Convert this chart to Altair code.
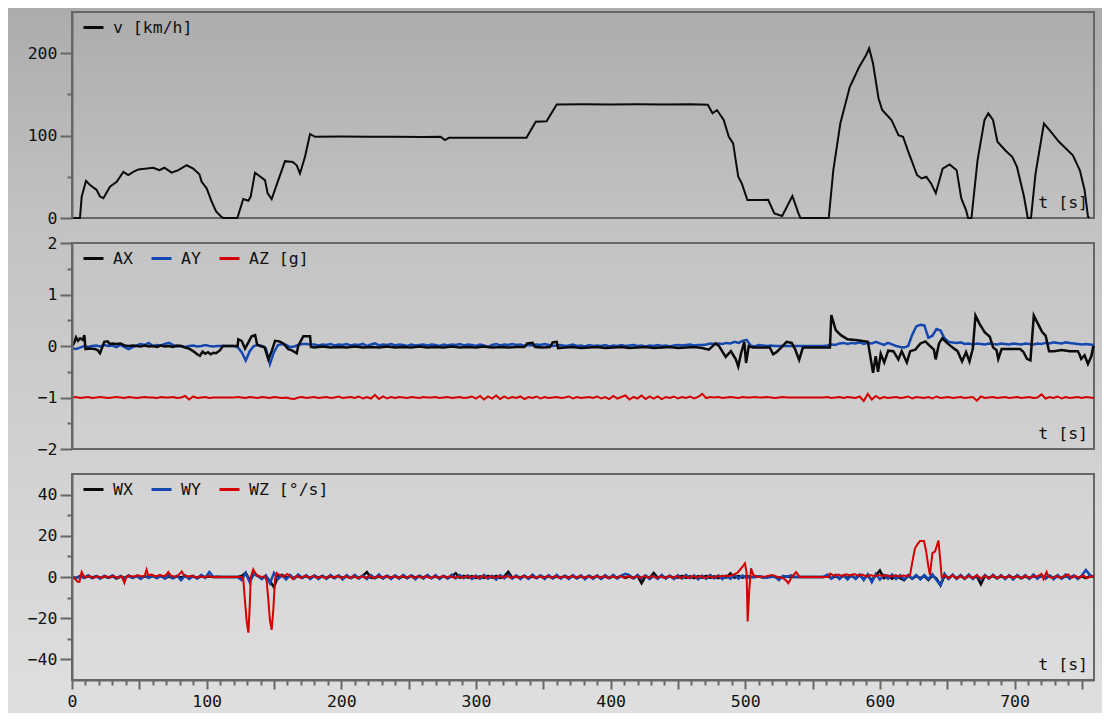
import altair as alt
import pandas as pd

FONT = "DejaVu Sans Mono"
FS = 16.5
W = 1022
H = 206
X_DOMAIN = [0, 759]
GRID_STEP = 3  # seconds between samples of the sampled series

# ---------------- data ----------------
V_PTS = [
    (0, 0), (5.9, 0), (7.2, 26), (10.4, 45), (13.4, 40), (18.3, 34), (20.8, 26), (23.3, 24),
    (28.2, 38), (33.2, 44), (38.1, 56), (41.8, 52), (45.5, 56), (49.3, 59), (55.5, 60), (60.4, 61),
    (64.9, 58), (68.6, 61), (74, 55), (79, 58), (85.2, 64), (90, 60), (94.6, 53), (96.3, 44),
    (100, 36), (103.7, 20), (107, 8), (111.2, 1), (112.5, 0), (122.8, 0), (127.2, 23), (131, 21),
    (132.7, 26), (135.9, 55), (143.3, 46), (145.3, 30), (148.3, 23), (153.2, 46), (158.2, 69),
    (163.9, 68), (166.9, 64), (169.3, 54), (173, 74), (176.8, 102), (180.5, 98.6), (200, 98.8),
    (220, 98.5), (240, 98.7), (260, 98.4), (273.7, 98.6), (277, 94.5), (280, 97.4), (300, 97.3),
    (320, 97.5), (337.5, 97.4), (344.4, 116.8), (352.4, 117.5), (360, 137.8), (380, 138),
    (400, 137.7), (420, 138), (440, 137.6), (460, 137.9), (472.2, 137.5), (475.7, 127), (479, 131),
    (484, 119), (487.8, 98.6), (491, 90.5), (494.8, 50), (497.4, 42), (501.6, 21.8), (517, 22),
    (521.6, 5.6), (527.4, 2.4), (535, 26.7), (539.5, 5.6), (541, 0), (562, 0), (565.4, 58),
    (570.6, 114.7), (577.6, 159), (584.5, 183), (589.7, 197.6), (592, 206), (594.9, 187.5),
    (599, 145), (601.7, 131), (608.6, 119), (613.8, 100.6), (617.2, 98.6), (620.7, 82),
    (627.6, 52), (631, 48), (634.5, 50), (638, 42), (641.5, 30), (646.6, 60), (651.8, 65),
    (657, 58), (660.4, 24), (663.9, 10), (665.5, 0), (668, 0), (672.5, 70), (677.7, 119),
    (680.5, 127), (684, 119), (687.3, 92.5), (693.2, 82), (698.4, 74), (701.8, 62), (707, 26),
    (709.8, 0), (712.2, 0), (715.6, 54), (721.8, 114.7), (726, 106.7), (733, 92.5), (743.3, 76),
    (748.5, 58), (752, 34), (754.5, 2), (755.5, 0),
]

AX_PTS = [
    (0, 0.0), (1.5, 0.05), (3, 0.17), (4.5, 0.1), (6, 0.15), (8, 0.12), (9.2, 0.21), (10, -0.06),
    (13, -0.05), (17, -0.06), (19, -0.08), (20.8, -0.14), (22.5, -0.02), (24, 0.08), (26.5, 0.09),
    (28, 0.04), (30, 0.05), (33, 0.04), (36, 0.05), (39, 0.01), (42, 0.0), (45, 0.01), (48, 0.0),
    (51, -0.01), (54, 0.01), (57, -0.01), (60, 0.0), (63, -0.02), (66, 0.01), (69, -0.01), (72, 0.0),
    (75, -0.02), (78, 0.01), (81, 0.0), (84, -0.03), (87, -0.05), (90, -0.1), (93, -0.16),
    (95, -0.19), (97, -0.11), (99, -0.15), (101, -0.12), (103, -0.16), (105, -0.13), (107, -0.14),
    (110, -0.08), (112, 0.0), (123, 0.0), (123.5, 0.13), (126, 0.1), (128.5, -0.05), (131, 0.07),
    (133.4, 0.19), (136, 0.21), (137.5, 0.03), (139.6, 0.0), (143, -0.02), (145.8, -0.26),
    (148.3, -0.1), (150.8, 0.1), (154, 0.09), (157, 0.05), (160.6, -0.06), (163, -0.08),
    (166.9, -0.14), (168, 0.0), (171.8, 0.19), (176.8, 0.19), (177.5, -0.02), (180, -0.03),
    (186, -0.01), (192, -0.03), (198, -0.02), (204, -0.03), (210, -0.01), (216, -0.03),
    (222, -0.02), (228, -0.03), (234, -0.01), (240, -0.03), (246, -0.02), (252, -0.03),
    (258, -0.01), (264, -0.03), (270, -0.02), (276, -0.03), (282, -0.01), (288, -0.03),
    (294, -0.02), (300, -0.03), (306, -0.01), (312, -0.03), (318, -0.02), (324, -0.03),
    (330, -0.02), (336, -0.02), (338, 0.05), (342, 0.06), (344, -0.02), (350, -0.03),
    (355, -0.02), (357, 0.07), (360, 0.08), (361, -0.04), (366, -0.03), (372, -0.02),
    (378, -0.04), (384, -0.03), (390, -0.02), (396, -0.04), (402, -0.03), (408, -0.02),
    (414, -0.04), (420, -0.03), (426, -0.02), (432, -0.04), (438, -0.03), (444, -0.02),
    (450, -0.04), (456, -0.03), (462, -0.02), (468, -0.04), (472.9, -0.07), (478, 0.05),
    (480.5, 0.0), (485.5, -0.21), (489.3, -0.1), (493, -0.26), (494.8, -0.4), (496.8, -0.15),
    (499.3, 0.08), (500.6, -0.33), (502.6, 0.0), (505.6, -0.03), (518.2, -0.03), (520.7, -0.16),
    (523.2, -0.12), (527, -0.02), (530.7, 0.08), (534.5, 0.06), (537, -0.06), (540, -0.27),
    (542.8, -0.03), (562.9, -0.03), (563.9, 0.6), (567.2, 0.31), (571, 0.21), (576, 0.13),
    (583.5, 0.11), (591.1, 0.08), (594.9, -0.52), (596.9, -0.2), (598.6, -0.5), (600.6, -0.15),
    (603.2, -0.32), (606.2, -0.09), (610, -0.1), (613.7, -0.26), (616.2, -0.1), (620, -0.32),
    (622.5, -0.1), (626.3, -0.07), (630.1, 0.05), (633.8, 0.09), (636.3, 0.02), (640.1, -0.07),
    (641.4, -0.26), (643.9, 0.05), (646.4, 0.15), (650.2, 0.05), (654, -0.03), (657.7, -0.1),
    (661, -0.3), (664, -0.12), (666.5, -0.3), (669, -0.05), (671, 0.59), (674, 0.43),
    (677.8, 0.27), (681.6, 0.18), (684.1, -0.03), (686.6, -0.08), (687.9, -0.25), (690.4, -0.06),
    (694.2, -0.06), (704.2, -0.06), (706.7, -0.12), (709.2, -0.25), (711.8, -0.28), (714.3, 0.59),
    (718, 0.4), (720.5, 0.27), (723.1, 0.2), (725.6, -0.1), (729.4, -0.1), (735, -0.08),
    (741, -0.1), (747, -0.1), (748.2, -0.16), (749.5, -0.25), (752, -0.18), (754.5, -0.35),
    (757, -0.2), (758.3, -0.03), (759, 0.0),
]

AY_GRID = [
    -0.05, -0.06, -0.03, 0.00, -0.02, 0.00, 0.01, -0.01, 0.02, 0.00,
    0.01, -0.02, 0.02, -0.02, -0.06, -0.02, 0.01, 0.04, 0.02, 0.06,
    0.00, 0.02, 0.01, 0.04, 0.06, 0.02, -0.01, 0.00, -0.02, 0.00,
    0.01, -0.01, 0.00, 0.02, 0.00, -0.01, 0.00, 0.00, 0.00, 0.00,
    0.00, -0.02, -0.12, -0.28, -0.10, 0.00, 0.02, 0.00, -0.05, -0.35,
    -0.12, 0.02, 0.04, 0.02, -0.02, -0.01, 0.02, 0.04, 0.04, 0.03,
    0.03, 0.01, 0.03, 0.02, 0.04, 0.01, 0.03, 0.02, 0.04, 0.01,
    0.03, 0.02, 0.04, 0.00, 0.03, 0.05, 0.01, 0.03, 0.02, 0.04,
    0.01, 0.03, 0.02, 0.00, 0.03, 0.01, 0.02, 0.03, 0.01, 0.03,
    0.02, 0.00, 0.03, 0.01, 0.03, 0.02, 0.04, 0.01, 0.03, 0.02,
    0.00, 0.03, 0.01, -0.02, 0.02, 0.04, 0.01, 0.03, 0.02, 0.04,
    0.02, 0.03, 0.00, 0.02, 0.01, 0.03, 0.02, 0.04, 0.02, 0.00,
    0.01, 0.02, 0.00, 0.01, 0.03, 0.00, 0.01, -0.01, 0.02, 0.00,
    0.01, 0.00, 0.02, -0.01, 0.01, 0.00, 0.02, 0.00, 0.01, 0.02,
    0.00, 0.01, -0.01, 0.01, 0.00, 0.02, 0.00, 0.01, -0.01, 0.01,
    0.02, 0.01, 0.02, 0.03, 0.01, 0.02, 0.02, 0.03, 0.05, 0.04,
    0.05, 0.04, 0.06, 0.05, 0.08, 0.06, 0.10, 0.12, 0.01, -0.01,
    0.02, 0.01, 0.00, 0.01, 0.00, 0.00, 0.00, 0.00, 0.00, 0.00,
    0.00, 0.00, 0.00, 0.00, 0.00, 0.00, 0.00, 0.01, 0.03, 0.02,
    0.05, 0.06, 0.04, 0.06, 0.05, 0.07, 0.04, 0.06, 0.05, 0.08,
    0.05, 0.02, 0.06, 0.03, 0.00, -0.02, -0.03, 0.00, 0.22, 0.38,
    0.41, 0.40, 0.16, 0.20, 0.33, 0.30, 0.15, 0.08, 0.07, 0.06,
    0.07, 0.04, 0.05, 0.03, 0.05, 0.04, 0.03, 0.05, 0.04, 0.03,
    0.05, 0.04, 0.03, 0.05, 0.04, 0.03, 0.05, 0.04, 0.03, 0.05,
    0.04, 0.06, 0.05, 0.07, 0.06, 0.05, 0.07, 0.06, 0.05, 0.04,
    0.03, 0.04, 0.03, 0.02,
]

AZ_GRID = [
    -1.00, -0.99, -1.01, -1.00, -0.99, -1.01, -1.00, -0.99, -1.00, -1.01,
    -1.00, -0.99, -1.00, -1.01, -0.99, -1.00, -1.01, -1.00, -0.99, -1.00,
    -1.00, -1.01, -0.99, -1.00, -1.00, -0.99, -1.01, -1.00, -0.97, -1.04,
    -0.98, -1.01, -1.00, -0.99, -1.01, -1.00, -1.00, -1.00, -1.00, -1.00,
    -1.00, -0.99, -1.00, -1.01, -0.99, -1.00, -1.01, -0.99, -1.00, -1.01,
    -0.99, -1.00, -1.01, -1.00, -1.02, -1.03, -1.00, -0.99, -1.01, -1.00,
    -0.99, -1.01, -1.00, -0.99, -1.01, -1.00, -0.98, -1.01, -1.00, -0.99,
    -1.01, -0.98, -1.02, -0.99, -1.02, -0.95, -1.03, -0.98, -1.02, -0.99,
    -1.01, -0.99, -1.00, -1.01, -0.99, -1.00, -1.01, -0.99, -1.00, -1.00,
    -0.99, -1.01, -1.00, -0.99, -1.01, -1.00, -0.99, -1.01, -1.00, -0.98,
    -1.02, -0.97, -1.04, -0.98, -1.02, -0.96, -1.03, -0.98, -1.02, -0.99,
    -1.01, -0.98, -1.03, -0.99, -1.01, -0.98, -1.02, -0.99, -1.01, -1.00,
    -0.99, -1.01, -1.00, -0.98, -1.02, -0.99, -1.01, -1.00, -0.99, -1.01,
    -0.98, -1.02, -0.99, -1.03, -0.97, -1.02, -0.99, -0.96, -1.04, -0.99,
    -1.02, -0.96, -1.03, -0.98, -1.02, -0.98, -1.03, -0.99, -1.01, -0.98,
    -1.02, -0.99, -1.01, -0.98, -1.02, -0.99, -0.93, -1.01, -0.99, -1.00,
    -0.99, -1.01, -1.00, -0.99, -1.00, -1.01, -0.99, -1.00, -1.00, -0.99,
    -1.00, -1.00, -0.99, -1.00, -1.01, -1.00, -0.99, -1.00, -1.00, -1.00,
    -1.00, -1.00, -1.00, -1.00, -1.00, -1.00, -1.00, -0.99, -1.01, -1.00,
    -0.99, -1.01, -0.99, -1.00, -1.01, -0.98, -1.07, -0.93, -1.04, -0.97,
    -1.02, -0.99, -1.01, -1.00, -0.99, -1.01, -1.00, -0.98, -1.02, -0.99,
    -1.00, -1.01, -0.99, -1.02, -0.98, -1.01, -1.00, -0.99, -1.01, -1.00,
    -0.99, -1.01, -1.00, -0.99, -1.06, -0.98, -1.01, -1.00, -0.99, -1.01,
    -1.00, -0.99, -1.01, -1.00, -0.99, -1.01, -1.00, -0.99, -1.01, -1.00,
    -0.94, -1.02, -0.99, -1.01, -0.98, -1.02, -0.99, -1.01, -1.00, -0.99,
    -1.01, -0.99, -1.00, -1.01,
]

WX_GRID = [
    0.0, -0.5, 0.3, -0.3, 0.5, -0.2, 0.3, -0.5, 0.2, -0.3,
    0.5, -0.8, 0.2, -0.4, 0.6, -0.3, 0.4, -0.6, 0.3, -0.2,
    0.4, -0.3, 0.6, -0.5, 0.2, -0.4, 0.3, -0.2, 0.5, -0.3,
    0.2, -0.4, 0.3, 0.0, 0.2, 0.0, 0.1, 0.0, 0.0, 0.0,
    0.0, 0.0, 0.5, 2.0, -1.5, 1.5, 0.5, -0.5, 0.3, -2.0,
    -5.0, 0.5, 1.0, -0.3, 0.4, -0.5, 0.6, -0.2, 0.3, -0.4,
    0.5, -0.3, 0.4, -0.6, 0.3, -0.2, 0.5, -0.4, 0.3, -0.5,
    0.4, -0.3, 0.6, 2.4, -0.4, -0.5, 0.3, -0.6, 0.4, -0.3,
    0.5, -0.4, 0.3, -0.5, 0.6, -0.3, 0.4, -0.2, 0.5, -0.4,
    0.3, -0.5, 0.4, -0.3, 0.2, 1.8, -0.4, 0.5, -0.3, 0.4,
    -0.5, 0.3, -0.4, 0.6, -0.3, 0.5, -0.4, 0.3, 2.5, -0.5,
    0.4, -0.3, 0.5, -0.6, 0.3, -0.4, 0.5, -0.3, 0.4, -0.5,
    0.3, -0.4, 0.6, -0.3, 0.5, -0.5, 0.3, -0.4, 0.5, -0.3,
    0.4, -0.6, 0.3, -0.5, 0.4, -0.3, 0.6, -0.4, 0.3, -0.5,
    0.5, -3.0, 0.4, -0.5, 2.0, -0.4, 0.3, -0.5, 0.4, -0.3,
    -0.3, 0.5, -0.4, 0.3, -0.6, 0.4, -0.3, 0.5, -0.4, 0.3,
    -0.5, 0.4, -0.3, 1.8, -0.4, 0.5, -0.3, 0.5, 0.0, 0.0,
    0.2, -0.2, 0.0, 0.3, 0.0, -0.3, 0.0, 0.2, 0.0, 0.0,
    0.0, 0.0, 0.0, 0.0, 0.0, 0.0, 0.0, 0.5, -0.6, 0.4,
    -0.5, 0.6, -0.4, 0.5, -0.6, 0.8, -0.8, 0.6, -1.5, 0.8,
    3.2, -0.6, 0.5, -0.8, 0.6, -0.5, -1.5, 0.6, -0.8, 0.5,
    -0.6, 0.4, -1.5, 0.6, -0.8, -4.0, 0.6, -0.5, 0.8, -0.6,
    0.5, -0.8, 0.6, -0.5, 0.4, -3.5, 0.6, -0.4, 0.5, -0.6,
    0.4, -0.5, 0.6, -0.4, 0.5, -0.6, 0.3, -0.5, 0.4, -0.3,
    0.5, -0.4, 0.6, -0.5, 0.3, -0.6, 0.4, -0.3, 0.5, -0.4,
    0.3, -0.5, 0.4, 0.0,
]

WY_GRID = [
    0.0, -0.8, 0.6, -0.5, 0.8, -0.6, 0.5, -0.8, 0.6, -0.4,
    0.7, -0.6, 0.5, -1.0, 0.8, -0.5, 0.6, -0.9, 0.7, -0.5,
    0.8, -0.6, 0.5, -0.8, 1.0, -0.7, 0.6, -1.5, 0.8, -1.0,
    0.6, -0.8, 1.0, -0.5, 2.4, 0.0, 0.0, 0.0, 0.0, 0.0,
    0.0, 0.0, -1.5, 2.0, -2.5, 1.5, 0.5, -1.0, 0.8, -3.0,
    2.0, -1.0, 0.8, -1.2, 1.0, -0.8, 1.2, -0.6, 0.9, -1.0,
    0.8, -1.0, 0.6, -0.9, 1.0, -0.7, 0.8, -1.2, 0.9, -0.6,
    1.0, -0.8, 0.7, -1.0, 0.9, -0.6, 1.2, -0.8, 0.7, -1.0,
    0.8, -0.9, 1.0, -0.6, 0.8, -1.1, 0.7, -0.8, 1.0, -0.7,
    0.9, -1.0, 0.6, -0.8, 1.1, -0.7, 0.9, -0.6, 0.8, -1.0,
    0.7, -0.9, 1.0, -0.8, 0.6, -1.2, 0.9, -0.7, 1.0, -0.8,
    0.8, -1.0, 0.7, -0.9, 1.1, -0.6, 0.8, -1.0, 0.9, -0.7,
    1.0, -0.8, 0.6, -1.0, 0.9, -0.7, 0.8, -1.1, 0.7, -0.9,
    0.8, -1.0, 0.9, -0.6, 1.0, -0.8, 0.7, 1.5, 0.9, -0.8,
    1.0, -0.7, 0.8, -1.0, 0.6, -0.9, 1.0, -0.8, 0.7, -1.0,
    0.9, -0.8, 1.0, -0.6, 0.8, -1.1, 0.7, -0.9, 1.0, -0.7,
    0.8, -1.0, 0.6, -0.9, 1.0, -0.8, 0.7, -0.5, 0.0, 0.0,
    0.3, 0.0, -0.3, 0.0, 0.2, -1.5, 0.5, 0.0, 0.8, 0.0,
    0.0, 0.0, 0.0, 0.0, 0.0, 0.0, 0.0, 1.2, -0.8, 1.0,
    -1.0, 0.8, -1.2, 1.0, -0.9, 1.2, -1.5, 1.3, -2.5, 1.5,
    -1.2, 1.0, -0.8, 1.2, -1.0, 0.8, -1.2, 1.0, -0.8, 1.0,
    -1.2, 0.9, -1.0, 1.3, -1.5, -4.0, 1.5, -1.0, 1.2, -0.9,
    1.0, -0.8, 1.2, -1.0, 0.8, -1.2, 1.0, -0.9, 1.1, -0.8,
    0.9, -1.0, 0.8, -1.2, 1.0, -0.7, 0.9, -1.0, 1.2, -0.8,
    1.0, -0.9, 0.8, -1.1, 1.0, -0.8, 1.2, -0.9, 0.8, -1.0,
    0.8, 3.4, 0.9, 0.0,
]

WZ_PTS = [
    (0, 0), (2, -0.8), (4, -2.2), (5.5, -2.4), (6.5, 0.5), (7.2, 2.4), (8.5, 0.8), (10, -0.3),
    (13, 0.4), (16, -0.5), (19, 0.3), (22, -0.4), (25, 0.5), (28, -0.3), (31, 0.4), (34, -0.5),
    (37, 0.3), (38.9, -2.9), (40.5, 0.2), (43, 0.6), (46, 0.1), (49, 0.8), (52, 0.3), (54, 0.6),
    (55.4, 3.6), (56.5, 0.8), (59, 1.2), (62, 0.3), (65, 0.9), (68, 0.4), (70, 1.0), (71.5, 2.4),
    (73, 0.9), (76, 0.2), (79, 0.8), (81.5, 2.7), (83, 1.0), (86, 0.2), (89, 0.6), (92, -0.2),
    (95, 0.4), (98, -0.1), (101, 0.3), (104, 0), (108, 0), (126, 0), (127.2, -1), (128.5, -12),
    (129.8, -22), (131, -27), (132, -14), (132.8, 0), (134.6, 3.7), (136, 2), (138, 0.5),
    (141, 0), (143.5, 0.3), (144.6, -2), (145.8, -11), (147, -21), (148.3, -25.6), (149.5, -16),
    (150.8, -1), (152, 2), (154, 1), (157, 0.2), (160, 1.5), (162, 0.3), (164, -1), (167, 0.5),
    (170, -0.4), (173, 0.6), (176, -0.3), (179, 0.4), (182, -0.5), (185, 0.3), (188, -0.6),
    (191, 0.4), (194, -0.3), (197, 0.5), (200, -0.4), (203, 0.3), (206, -0.5), (209, 0.4),
    (212, -0.6), (215, 0.3), (218, -0.4), (221, 0.5), (224, -0.6), (227, 0.4), (230, -0.3),
    (233, 0.5), (236, -0.4), (239, 0.3), (242, -0.5), (245, 0.4), (248, -0.3), (251, 0.5),
    (254, -0.4), (257, 0.3), (260, -0.5), (263, 0.4), (266, -0.6), (269, 0.3), (272, -0.4),
    (275, 0.5), (278, -0.3), (281, 0.4), (284, -0.5), (287, 0.3), (290, -0.4), (293, 0.5),
    (296, -0.3), (299, 0.4), (302, -0.6), (305, 0.5), (308, -0.4), (311, 0.3), (314, -0.5),
    (317, 0.4), (320, -0.3), (323, 0.6), (326, -0.4), (329, 0.3), (332, -0.5), (335, 0.4),
    (338, -0.3), (341, 0.5), (344, -0.4), (347, 0.3), (350, -0.5), (353, 0.4), (356, -0.3),
    (359, 0.5), (362, -0.4), (365, 0.3), (368, -0.5), (371, 0.4), (374, -0.3), (377, 0.5),
    (380, -0.4), (383, 0.3), (386, -0.5), (389, 0.4), (392, -0.3), (395, 0.5), (398, -0.4),
    (401, 0.3), (404, -0.5), (407, 0.4), (410, -0.3), (413, 0.5), (416, -0.4), (419, 0.3),
    (422, -0.5), (425, 0.4), (428, -0.3), (431, 0.5), (434, -0.4), (437, 0.3), (440, -0.5),
    (443, 0.4), (446, -0.3), (449, 0.5), (452, -0.4), (455, 0.3), (458, -0.5), (461, 0.4),
    (464, -0.3), (467, 0.5), (470, -0.4), (473, 0.3), (476, -0.3), (479, 0.4), (482, 0.2),
    (485, 0.6), (488, 0.5), (491, 1.0), (494, 2.0), (496, 3.4), (498, 5), (499.8, 6.6),
    (501, 2), (501.8, -21.6), (503, -6), (504.3, 4.2), (506, 1), (509, 0), (515, 0.3),
    (520, 1.0), (524, 0), (528, -0.5), (530, -1.5), (532, -3), (534.5, 0), (537.7, 2.4),
    (540.5, 0), (545, 0), (562, 0), (563, 1.6), (566, 0.6), (569, 1.2), (572, 0.5), (575, 1.3),
    (578, 0.7), (581, 1.4), (584, 0.6), (587, 1.2), (590, 0.3), (593, 1.0), (596, 0.4),
    (599, 1.1), (602, 0.5), (605, 0.9), (608, 0.2), (611, 0.8), (614, 0.3), (617, 0.7),
    (620, 0.5), (622.4, 1), (624, 7), (626, 13.8), (628, 16), (629.8, 17.5), (632.7, 17.5),
    (634.2, 13), (636, 5), (637.2, 1), (639, 11.6), (641, 12.5), (643.5, 17.7), (644.7, 9),
    (645.9, 0), (648, 0.8), (651, -0.5), (654, 0.7), (657, -0.6), (660, 0.5), (663, -0.8),
    (666, 0.6), (669, -0.5), (672, 0.8), (675, -0.7), (678, 0.5), (681, -0.6), (684, 0.7),
    (687, -0.5), (690, 0.6), (693, -0.4), (696, 0.5), (699, -0.6), (702, 0.4), (705, -0.5),
    (708, 0.6), (711, -0.4), (714, 0.5), (717, 0.3), (720, 1.5), (721.5, -1), (723.8, 2.4),
    (725, 0.2), (728, -0.5), (731, 0.6), (734, -0.4), (737, 0.5), (740, 1.2), (742, -0.5),
    (745, 0.6), (748, -0.4), (751, 0.8), (754, -0.5), (757, 0.4), (759, 0.2),
]

LEGEND_1 = ["v [km/h]"]
LEGEND_2 = ["AX", "AY", "AZ [g]"]
LEGEND_3 = ["WX", "WY", "WZ [°/s]"]
SERIES_COLORS = ["#0a0a0a", "#1448b0", "#d40000"]

Y1_DOMAIN, Y1_MAJOR, Y1_MINOR = [0, 250], [0, 100, 200], [50, 150]
Y2_DOMAIN, Y2_MAJOR, Y2_MINOR = [-2, 2], [-2, -1, 0, 1, 2], [-1.5, -0.5, 0.5, 1.5]
Y3_DOMAIN, Y3_MAJOR, Y3_MINOR = [-50, 50], [-40, -20, 0, 20, 40], [-30, -10, 10, 30]
X_MAJOR = [0, 50, 100, 150, 200, 250, 300, 350, 400, 450, 500, 550, 600, 650, 700, 750]
X_MINOR = [v for v in range(10, 760, 10) if v % 50 != 0]
X_UNIT = ["t [s]"]

# ---------------- styling ----------------
FRAME = "#676767"
TEXT = "#111111"
BG_STOPS = [(0.0, "#acacac"), (0.3, "#c2c2c2"), (0.7, "#d4d4d4"), (1.0, "#dfdfdf")]


def pts_df(pts, name):
    return pd.DataFrame({"t": [p[0] for p in pts], "val": [p[1] for p in pts], "series": name})


def grid_df(vals, name):
    return pd.DataFrame({"t": [i * GRID_STEP for i in range(len(vals))], "val": vals, "series": name})


def y_axis_major(values):
    return alt.Axis(values=values, orient="left", tickSize=12, labelPadding=3, tickWidth=2,
                    tickColor=FRAME, domainColor=FRAME, domainWidth=2, labelFont=FONT,
                    labelFontSize=FS, labelColor=TEXT, grid=False, title=None, zindex=1)


def y_axis_minor(values):
    return alt.Axis(values=values, orient="left", tickSize=5, tickWidth=2, tickColor=FRAME,
                    labels=False, domain=False, grid=False, title=None, zindex=1)


X_AXIS_MAJOR = alt.Axis(values=X_MAJOR, orient="bottom", tickSize=9, tickWidth=2, tickColor=FRAME,
                        domainColor=FRAME, domainWidth=2, labelFont=FONT, labelFontSize=FS,
                        labelColor=TEXT, labelPadding=4, labelFlush=False, grid=False, title=None,
                        labelExpr="datum.value % 100 == 0 ? datum.label : ''", zindex=1)
X_AXIS_MINOR = alt.Axis(values=X_MINOR, orient="bottom", tickSize=5, tickWidth=2, tickColor=FRAME,
                        labels=False, domain=False, grid=False, title=None, zindex=1)

ONE = pd.DataFrame({"k": [0]})


def panel(frames, widths, legend_names, y_domain, y_major, y_minor, with_x_axis, with_bg):
    xs = alt.Scale(domain=X_DOMAIN, nice=False, zero=False)
    ys = alt.Scale(domain=y_domain, nice=False, zero=False)
    cscale = alt.Scale(domain=legend_names, range=SERIES_COLORS[:len(legend_names)])
    legend = alt.Legend(orient="none", legendX=10, legendY=4, direction="horizontal", title=None,
                        symbolType="stroke", symbolSize=400, symbolStrokeWidth=3,
                        labelFont=FONT, labelFontSize=FS, labelColor=TEXT, labelOffset=8,
                        columnPadding=12, padding=0, zindex=1)
    layers = []
    if with_bg:
        grad = alt.LinearGradient(gradient="linear", x1=0, x2=0, y1=0, y2=1,
                                  stops=[alt.GradientStop(offset=o, color=c) for o, c in BG_STOPS])
        layers.append(alt.Chart(ONE).mark_rect(fill=grad).encode(
            x=alt.value(-64), x2=alt.value(1030), y=alt.value(-4), y2=alt.value(701)))
    layers.append(alt.Chart(ONE).mark_rect(fillOpacity=0, stroke=FRAME, strokeWidth=2).encode(
        x=alt.value(0), x2=alt.value(W), y=alt.value(0), y2=alt.value(H)))
    layers.append(alt.Chart(frames[0]).mark_point(opacity=0).encode(
        x=alt.X("t:Q", scale=xs, axis=X_AXIS_MINOR if with_x_axis else None),
        y=alt.Y("val:Q", scale=ys, axis=y_axis_minor(y_minor))))
    for i, (df, w) in enumerate(zip(frames, widths)):
        layers.append(alt.Chart(df).mark_line(strokeWidth=w).encode(
            x=alt.X("t:Q", scale=xs, axis=(X_AXIS_MAJOR if (with_x_axis and i == 0) else None)),
            y=alt.Y("val:Q", scale=ys, axis=(y_axis_major(y_major) if i == 0 else None)),
            color=alt.Color("series:N", scale=cscale, legend=legend)))
    layers.append(alt.Chart(pd.DataFrame({"label": X_UNIT})).mark_text(
        align="right", baseline="middle", font=FONT, fontSize=FS, color=TEXT).encode(
        x=alt.value(W - 6), y=alt.value(H - 15), text="label:N"))
    return alt.layer(*layers).resolve_axis(x="independent", y="independent").properties(
        width=W, height=H)


p1 = panel([pts_df(V_PTS, LEGEND_1[0])], [2], LEGEND_1, Y1_DOMAIN, Y1_MAJOR, Y1_MINOR,
           False, True)
p2 = panel([grid_df(AY_GRID, LEGEND_2[1]), pts_df(AX_PTS, LEGEND_2[0]), grid_df(AZ_GRID, LEGEND_2[2])],
           [2.5, 2.5, 2], LEGEND_2, Y2_DOMAIN, Y2_MAJOR, Y2_MINOR, False, False)
p3 = panel([grid_df(WX_GRID, LEGEND_3[0]), grid_df(WY_GRID, LEGEND_3[1]), pts_df(WZ_PTS, LEGEND_3[2])],
           [2.5, 2.5, 2], LEGEND_3, Y3_DOMAIN, Y3_MAJOR, Y3_MINOR, True, False)

chart = alt.vconcat(p1, p2, p3, spacing=25, bounds="flush").resolve_scale(
    color="independent").properties(padding=0).configure(background="#c8c8c8").configure_view(
    strokeWidth=0)

chart.save("out.html", embed_options={"renderer": "svg", "actions": False})
